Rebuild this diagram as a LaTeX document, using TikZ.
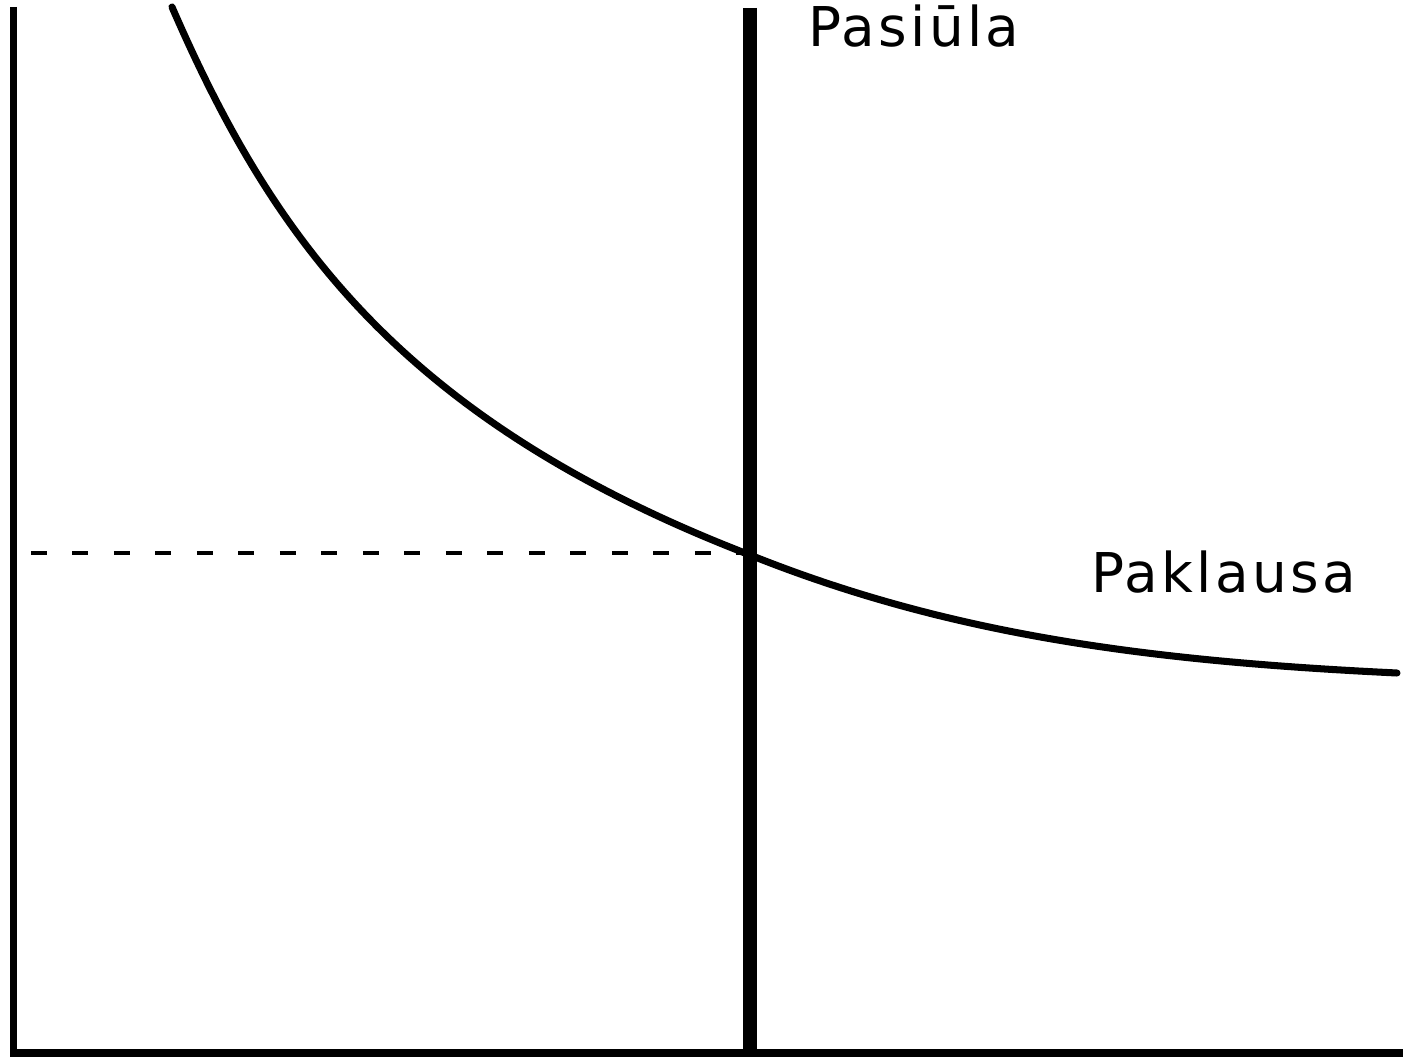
\documentclass[tikz,border=0pt]{standalone}
\usepackage{fontspec}
\setmainfont{DejaVu Sans}[LetterSpace=6]
\begin{document}
\begin{tikzpicture}[x=0.01cm, y=-0.01cm, semithick]
    \tikzset{lbl/.style={inner sep=0pt, font=\fontsize{15.6}{18}\selectfont},
             axis/.style={line width=2.2pt},
             supply/.style={line width=4pt},
             demand/.style={line width=2pt, line cap=round},
             guide/.style={line width=1.1pt, dash pattern=on 4.5pt off 7.3pt}}
    \useasboundingbox (0,0) rectangle (1408,1061);
    \coordinate (top) at (13.5,7);
    \coordinate (o) at (13.5,1053);
    \coordinate (qend) at (1403,1053);
    \coordinate (stop) at (750,8);
    \coordinate (sbot) at (750,1053);
    \coordinate (dtop) at (172,7);
    \coordinate (eq) at (750,555);
    \coordinate (dend) at (1397,673);
    \coordinate (pstart) at (31,553);
    \coordinate (pend) at (740,553);
    \node[lbl, anchor=base west] (sLbl) at (807,47) {Pasiūla};
    \node[lbl, anchor=base west] (dLbl) at (1090,593) {Paklausa};
    {
       \draw[axis] (top) -- (o) -- (qend);
       \draw[supply] (stop) -- (sbot);
       \draw[guide] (pstart) -- (pend);
       \draw[demand] (dtop) .. controls (272,237) and (400,420) .. (eq)
        .. controls (950,635) and (1147,661) .. (dend);
    }
\end{tikzpicture}
\end{document}
